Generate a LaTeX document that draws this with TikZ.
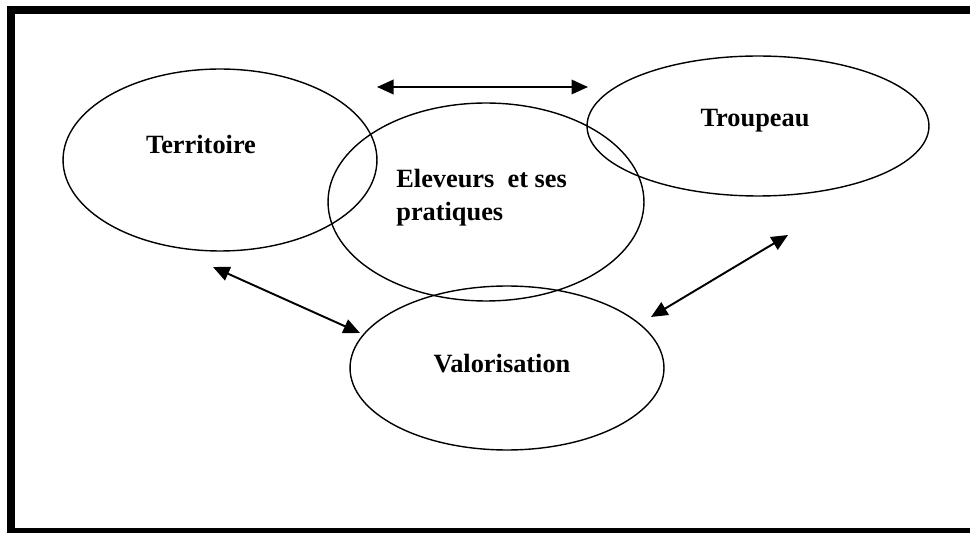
\documentclass[tikz,border=0pt]{standalone}
\usepackage{fontspec}
\setmainfont{Liberation Serif}
\usetikzlibrary{shapes.geometric, arrows.meta, positioning}

\begin{document}
\begin{tikzpicture}[
        x=0.02cm, y=-0.02cm,
        bubble/.style={ellipse, draw, line width=0.8pt, inner sep=0pt},
        label/.style={font=\fontsize{15pt}{18.7pt}\selectfont\bfseries, inner sep=0pt},
        link/.style={{Triangle[length=0.33cm, width=0.29cm]}-{Triangle[length=0.33cm, width=0.29cm]}, line width=1.1pt}
    ]
        \useasboundingbox (0,0) rectangle (970,533);
        \clip (0,0) rectangle (970,533);

        % Frame
        \draw[line width=0.16cm] (11,10) rectangle (978,532);

        % Ellipses
        \node[bubble, minimum width=6.28cm, minimum height=3.64cm] (terr) at (220,160) {};
        \node[bubble, minimum width=6.32cm, minimum height=3.96cm] (elev) at (486,202) {};
        \node[bubble, minimum width=6.84cm, minimum height=2.8cm] (troup) at (758,126) {};
        \node[bubble, minimum width=6.28cm, minimum height=3.28cm] (valo) at (507,368) {};

        % Labels
        \node[label, anchor=base] (terrtxt) at (201,154) {Territoire};
        \node[label, anchor=west, align=left] (elevtxt) at (396,198) {Eleveurs\ \ et ses\\pratiques};
        \node[label, anchor=base] (trouptxt) at (755,127) {Troupeau};
        \node[label, anchor=base] (valotxt) at (502,373) {Valorisation};

        % Arrow ends
        \coordinate (t1) at (377,87);
        \coordinate (t2) at (588,87);
        \coordinate (l1) at (213,267);
        \coordinate (l2) at (360,333);
        \coordinate (r1) at (788,235);
        \coordinate (r2) at (651,317);

        % Arrows
        \draw[link] (t1) -- (t2);
        \draw[link] (l1) -- (l2);
        \draw[link] (r1) -- (r2);
    \end{tikzpicture}
\end{document}
